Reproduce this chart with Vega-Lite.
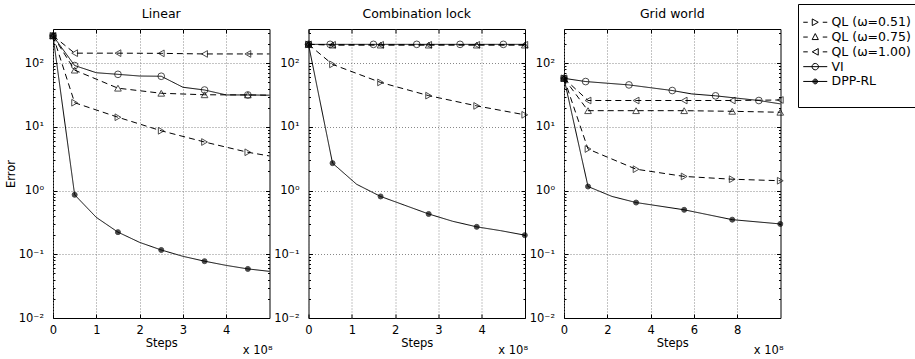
{
"$schema": "https://vega.github.io/schema/vega-lite/v6.json",
"datasets": {"main": [
{"p":"Linear","s":"QL (ω=0.51)","x":0,"y":270,"m":1},{"p":"Linear","s":"QL (ω=0.51)","x":0.5,"y":24,"m":1},{"p":"Linear","s":"QL (ω=0.51)","x":1.5,"y":14.2,"m":1},{"p":"Linear","s":"QL (ω=0.51)","x":2.5,"y":8.7,"m":1},{"p":"Linear","s":"QL (ω=0.51)","x":3.5,"y":5.8,"m":1},{"p":"Linear","s":"QL (ω=0.51)","x":4.5,"y":4.0,"m":1},{"p":"Linear","s":"QL (ω=0.51)","x":5,"y":3.5,"m":0},
{"p":"Linear","s":"QL (ω=0.75)","x":0,"y":270,"m":1},{"p":"Linear","s":"QL (ω=0.75)","x":0.5,"y":78,"m":1},{"p":"Linear","s":"QL (ω=0.75)","x":1.5,"y":40.6,"m":1},{"p":"Linear","s":"QL (ω=0.75)","x":2.5,"y":33.8,"m":1},{"p":"Linear","s":"QL (ω=0.75)","x":3.5,"y":32,"m":1},{"p":"Linear","s":"QL (ω=0.75)","x":4.5,"y":31.8,"m":1},{"p":"Linear","s":"QL (ω=0.75)","x":5,"y":31.5,"m":0},
{"p":"Linear","s":"QL (ω=1.00)","x":0,"y":270,"m":1},{"p":"Linear","s":"QL (ω=1.00)","x":0.5,"y":144,"m":1},{"p":"Linear","s":"QL (ω=1.00)","x":1.5,"y":144,"m":1},{"p":"Linear","s":"QL (ω=1.00)","x":2.5,"y":143,"m":1},{"p":"Linear","s":"QL (ω=1.00)","x":3.5,"y":140,"m":1},{"p":"Linear","s":"QL (ω=1.00)","x":4.5,"y":140,"m":1},{"p":"Linear","s":"QL (ω=1.00)","x":5,"y":140,"m":0},
{"p":"Linear","s":"VI","x":0,"y":270,"m":1},{"p":"Linear","s":"VI","x":0.5,"y":92,"m":1},{"p":"Linear","s":"VI","x":1,"y":71,"m":0},{"p":"Linear","s":"VI","x":1.5,"y":67,"m":1},{"p":"Linear","s":"VI","x":2,"y":63,"m":0},{"p":"Linear","s":"VI","x":2.5,"y":62.5,"m":1},{"p":"Linear","s":"VI","x":3,"y":42,"m":0},{"p":"Linear","s":"VI","x":3.5,"y":38,"m":1},{"p":"Linear","s":"VI","x":4,"y":31.8,"m":0},{"p":"Linear","s":"VI","x":4.5,"y":31.8,"m":1},{"p":"Linear","s":"VI","x":5,"y":31.5,"m":0},
{"p":"Linear","s":"DPP-RL","x":0,"y":270,"m":1},{"p":"Linear","s":"DPP-RL","x":0.5,"y":0.86,"m":1},{"p":"Linear","s":"DPP-RL","x":1,"y":0.38,"m":0},{"p":"Linear","s":"DPP-RL","x":1.5,"y":0.223,"m":1},{"p":"Linear","s":"DPP-RL","x":2,"y":0.154,"m":0},{"p":"Linear","s":"DPP-RL","x":2.5,"y":0.117,"m":1},{"p":"Linear","s":"DPP-RL","x":3,"y":0.093,"m":0},{"p":"Linear","s":"DPP-RL","x":3.5,"y":0.078,"m":1},{"p":"Linear","s":"DPP-RL","x":4,"y":0.067,"m":0},{"p":"Linear","s":"DPP-RL","x":4.5,"y":0.059,"m":1},{"p":"Linear","s":"DPP-RL","x":5,"y":0.054,"m":0},
{"p":"Combination lock","s":"QL (ω=0.51)","x":0,"y":198,"m":1},{"p":"Combination lock","s":"QL (ω=0.51)","x":0.555,"y":96,"m":1},{"p":"Combination lock","s":"QL (ω=0.51)","x":1.665,"y":50,"m":1},{"p":"Combination lock","s":"QL (ω=0.51)","x":2.775,"y":31,"m":1},{"p":"Combination lock","s":"QL (ω=0.51)","x":3.885,"y":21.4,"m":1},{"p":"Combination lock","s":"QL (ω=0.51)","x":4.995,"y":15.5,"m":1},
{"p":"Combination lock","s":"QL (ω=0.75)","x":0,"y":198,"m":1},{"p":"Combination lock","s":"QL (ω=0.75)","x":0.555,"y":193,"m":1},{"p":"Combination lock","s":"QL (ω=0.75)","x":1.665,"y":193,"m":1},{"p":"Combination lock","s":"QL (ω=0.75)","x":2.775,"y":193,"m":1},{"p":"Combination lock","s":"QL (ω=0.75)","x":3.885,"y":193,"m":1},{"p":"Combination lock","s":"QL (ω=0.75)","x":4.995,"y":193,"m":1},
{"p":"Combination lock","s":"QL (ω=1.00)","x":0,"y":198,"m":1},{"p":"Combination lock","s":"QL (ω=1.00)","x":0.555,"y":195,"m":1},{"p":"Combination lock","s":"QL (ω=1.00)","x":1.665,"y":195,"m":1},{"p":"Combination lock","s":"QL (ω=1.00)","x":2.775,"y":195,"m":1},{"p":"Combination lock","s":"QL (ω=1.00)","x":3.885,"y":195,"m":1},{"p":"Combination lock","s":"QL (ω=1.00)","x":4.995,"y":195,"m":1},
{"p":"Combination lock","s":"VI","x":0,"y":198,"m":1},{"p":"Combination lock","s":"VI","x":0.5,"y":198,"m":1},{"p":"Combination lock","s":"VI","x":1.5,"y":198,"m":1},{"p":"Combination lock","s":"VI","x":2.5,"y":198,"m":1},{"p":"Combination lock","s":"VI","x":3.5,"y":198,"m":1},{"p":"Combination lock","s":"VI","x":4.5,"y":198,"m":1},{"p":"Combination lock","s":"VI","x":5,"y":198,"m":0},
{"p":"Combination lock","s":"DPP-RL","x":0,"y":198,"m":1},{"p":"Combination lock","s":"DPP-RL","x":0.555,"y":2.7,"m":1},{"p":"Combination lock","s":"DPP-RL","x":1.11,"y":1.26,"m":0},{"p":"Combination lock","s":"DPP-RL","x":1.665,"y":0.81,"m":1},{"p":"Combination lock","s":"DPP-RL","x":2.22,"y":0.59,"m":0},{"p":"Combination lock","s":"DPP-RL","x":2.775,"y":0.43,"m":1},{"p":"Combination lock","s":"DPP-RL","x":3.33,"y":0.33,"m":0},{"p":"Combination lock","s":"DPP-RL","x":3.885,"y":0.27,"m":1},{"p":"Combination lock","s":"DPP-RL","x":4.44,"y":0.235,"m":0},{"p":"Combination lock","s":"DPP-RL","x":4.995,"y":0.2,"m":1},
{"p":"Grid world","s":"QL (ω=0.51)","x":0,"y":58,"m":1},{"p":"Grid world","s":"QL (ω=0.51)","x":1.11,"y":4.5,"m":1},{"p":"Grid world","s":"QL (ω=0.51)","x":3.33,"y":2.17,"m":1},{"p":"Grid world","s":"QL (ω=0.51)","x":5.55,"y":1.67,"m":1},{"p":"Grid world","s":"QL (ω=0.51)","x":7.77,"y":1.51,"m":1},{"p":"Grid world","s":"QL (ω=0.51)","x":9.99,"y":1.43,"m":1},
{"p":"Grid world","s":"QL (ω=0.75)","x":0,"y":58,"m":1},{"p":"Grid world","s":"QL (ω=0.75)","x":1.11,"y":18,"m":1},{"p":"Grid world","s":"QL (ω=0.75)","x":3.33,"y":18,"m":1},{"p":"Grid world","s":"QL (ω=0.75)","x":5.55,"y":18,"m":1},{"p":"Grid world","s":"QL (ω=0.75)","x":7.77,"y":17.6,"m":1},{"p":"Grid world","s":"QL (ω=0.75)","x":9.99,"y":17,"m":1},
{"p":"Grid world","s":"QL (ω=1.00)","x":0,"y":58,"m":1},{"p":"Grid world","s":"QL (ω=1.00)","x":1.11,"y":26,"m":1},{"p":"Grid world","s":"QL (ω=1.00)","x":3.33,"y":26,"m":1},{"p":"Grid world","s":"QL (ω=1.00)","x":5.55,"y":26,"m":1},{"p":"Grid world","s":"QL (ω=1.00)","x":7.77,"y":26,"m":1},{"p":"Grid world","s":"QL (ω=1.00)","x":9.99,"y":26.5,"m":1},
{"p":"Grid world","s":"VI","x":0,"y":58,"m":1},{"p":"Grid world","s":"VI","x":1,"y":51.6,"m":1},{"p":"Grid world","s":"VI","x":3,"y":45.7,"m":1},{"p":"Grid world","s":"VI","x":5,"y":37.3,"m":1},{"p":"Grid world","s":"VI","x":5.9,"y":33,"m":0},{"p":"Grid world","s":"VI","x":7,"y":30.8,"m":1},{"p":"Grid world","s":"VI","x":9,"y":26,"m":1},{"p":"Grid world","s":"VI","x":10,"y":23,"m":0},
{"p":"Grid world","s":"DPP-RL","x":0,"y":58,"m":1},{"p":"Grid world","s":"DPP-RL","x":1.11,"y":1.16,"m":1},{"p":"Grid world","s":"DPP-RL","x":2.22,"y":0.81,"m":0},{"p":"Grid world","s":"DPP-RL","x":3.33,"y":0.65,"m":1},{"p":"Grid world","s":"DPP-RL","x":5.55,"y":0.5,"m":1},{"p":"Grid world","s":"DPP-RL","x":7.77,"y":0.35,"m":1},{"p":"Grid world","s":"DPP-RL","x":9.99,"y":0.3,"m":1}
]},
"spacing": 38.5,
"bounds": "flush",
"padding": {"left": 4, "top": 3, "right": 0, "bottom": 0},
"hconcat": [
{
"title": "Linear", "width": 216.5, "height": 289,
"layer": [
{"data": {"name": "main"}, "transform": [{"filter": "datum.p==='Linear'"}],
 "mark": {"type": "line", "color": "black", "strokeWidth": 1},
 "encoding": {
  "x": {"field": "x", "type": "quantitative", "scale": {"domain": [0, 5], "nice": false, "zero": false},
    "axis": {"orient": "bottom", "values": [0,1,2,3,4], "title": "Steps", "grid": true, "gridColor": "#888", "gridDash": [1,2], "domain": false, "tickSize": -4, "labelPadding": 10.5, "titlePadding": 1.5, "labelFlush": false}},
  "y": {"field": "y", "type": "quantitative", "scale": {"type": "log", "domain": [0.01, 345], "nice": false},
    "axis": {"orient": "left", "values": [0.01,0.02,0.03,0.04,0.05,0.06,0.07,0.08,0.09,0.1,0.2,0.3,0.4,0.5,0.6,0.7,0.8,0.9,1,2,3,4,5,6,7,8,9,10,20,30,40,50,60,70,80,90,100,200,300], "grid": true, "gridColor": "#888", "gridDash": [1,2], "gridOpacity": {"condition": {"test": "indexof([0.1,1,10,100],datum.value)>=0", "value": 1}, "value": 0}, "tickSize": {"condition": {"test": "indexof([0.01,0.1,1,10,100],datum.value)>=0", "value": -4}, "value": -2}, "domain": false, "labelOverlap": false, "labelPadding": 13.5, "labelExpr": "datum.value===100?'10²':datum.value===10?'10¹':datum.value===1?'10⁰':datum.value===0.1?'10⁻¹':datum.value===0.01?'10⁻²':''", "title": "Error", "titlePadding": 2}},
  "detail": {"field": "s", "type": "nominal"},
  "strokeDash": {"condition": {"test": "datum.s==='VI' || datum.s==='DPP-RL'", "value": [1,0]}, "value": [6,4]}
 }},
{"data": {"name": "main"}, "transform": [{"filter": "datum.p==='Linear' && datum.m==1"}],
 "mark": {"type": "point", "filled": false, "stroke": "black", "strokeWidth": 1},
 "encoding": {
  "x": {"field": "x", "type": "quantitative", "axis": {"orient": "top", "values": [0,1,2,3,4], "labels": false, "grid": false, "domain": false, "tickSize": -4, "title": null}},
  "y": {"field": "y", "type": "quantitative", "axis": {"orient": "right", "values": [0.01,0.02,0.03,0.04,0.05,0.06,0.07,0.08,0.09,0.1,0.2,0.3,0.4,0.5,0.6,0.7,0.8,0.9,1,2,3,4,5,6,7,8,9,10,20,30,40,50,60,70,80,90,100,200,300], "labels": false, "grid": false, "domain": false, "tickSize": {"condition": {"test": "indexof([0.01,0.1,1,10,100],datum.value)>=0", "value": -4}, "value": -2}, "title": null}},
  "shape": {"condition": [{"test": "datum.s==='QL (ω=0.51)'", "value": "triangle-right"}, {"test": "datum.s==='QL (ω=0.75)'", "value": "triangle-up"}, {"test": "datum.s==='QL (ω=1.00)'", "value": "triangle-left"}], "value": "circle"},
  "fill": {"condition": {"test": "datum.s==='DPP-RL'", "value": "black"}, "value": "transparent"},
  "size": {"condition": {"test": "datum.s==='DPP-RL'", "value": 25}, "value": 45}
 }},
{"data": {"name": "main"}, "transform": [{"filter": "false"}],
 "mark": {"type": "point", "filled": false, "color": "black", "strokeWidth": 1},
 "encoding": {
  "x": {"field": "x", "type": "quantitative", "axis": null},
  "y": {"field": "y", "type": "quantitative", "axis": null},
  "shape": {"field": "s", "type": "nominal",
    "scale": {"domain": ["QL (ω=0.51)","QL (ω=0.75)","QL (ω=1.00)","VI","DPP-RL"," "],
      "range": ["M-1,0H-0.1M2.9,0H3.8M0.8,-0.66L2.0,0L0.8,0.66Z",
                "M-1,0H-0.1M2.9,0H3.8M0.78,0.5L2.02,0.5L1.4,-0.7Z",
                "M-1,0H-0.1M2.9,0H3.8M2.0,-0.66L0.8,0L2.0,0.66Z",
                "M-1,0H3.8M2.04,0A0.64,0.64 0 1 1 0.76,0A0.64,0.64 0 1 1 2.04,0",
                "M-1,0H3.8M1.88,0A0.48,0.48 0 1 1 0.92,0A0.48,0.48 0 1 1 1.88,0M1.72,0A0.32,0.32 0 1 1 1.08,0A0.32,0.32 0 1 1 1.72,0M1.56,0A0.16,0.16 0 1 1 1.24,0A0.16,0.16 0 1 1 1.56,0",
                "M0,0"]},
    "legend": {"orient": "none", "legendX": 745, "legendY": -25, "title": "\u00a0", "titleFontSize": 4, "titlePadding": 4, "padding": 4, "strokeColor": "black", "fillColor": "white", "symbolSize": 100, "symbolStrokeColor": "black", "symbolStrokeWidth": 1, "symbolFillColor": "transparent", "symbolOpacity": 1, "labelFont": "DejaVu Sans", "labelFontSize": 12.5, "labelColor": "black", "labelOffset": 17, "rowPadding": 1.8, "labelLimit": 300}}
 }},
{"data": {"values": [{"t": "x 10⁸"}]},
 "mark": {"type": "text", "align": "right", "baseline": "alphabetic", "dx": 3, "dy": 36, "font": "DejaVu Sans", "fontSize": 11.5, "color": "black"},
 "encoding": {"x": {"datum": 5, "type": "quantitative", "axis": null}, "y": {"datum": 0.01, "type": "quantitative", "axis": null}, "text": {"field": "t"}}}
],
"resolve": {"axis": {"x": "independent", "y": "independent"}}
},
{
"title": "Combination lock", "width": 216.5, "height": 289,
"layer": [
{"data": {"name": "main"}, "transform": [{"filter": "datum.p==='Combination lock'"}],
 "mark": {"type": "line", "color": "black", "strokeWidth": 1},
 "encoding": {
  "x": {"field": "x", "type": "quantitative", "scale": {"domain": [0, 5], "nice": false, "zero": false},
    "axis": {"orient": "bottom", "values": [0,1,2,3,4], "title": "Steps", "grid": true, "gridColor": "#888", "gridDash": [1,2], "domain": false, "tickSize": -4, "labelPadding": 10.5, "titlePadding": 1.5, "labelFlush": false}},
  "y": {"field": "y", "type": "quantitative", "scale": {"type": "log", "domain": [0.01, 345], "nice": false},
    "axis": {"orient": "left", "values": [0.01,0.02,0.03,0.04,0.05,0.06,0.07,0.08,0.09,0.1,0.2,0.3,0.4,0.5,0.6,0.7,0.8,0.9,1,2,3,4,5,6,7,8,9,10,20,30,40,50,60,70,80,90,100,200,300], "grid": true, "gridColor": "#888", "gridDash": [1,2], "gridOpacity": {"condition": {"test": "indexof([0.1,1,10,100],datum.value)>=0", "value": 1}, "value": 0}, "tickSize": {"condition": {"test": "indexof([0.01,0.1,1,10,100],datum.value)>=0", "value": -4}, "value": -2}, "domain": false, "labelOverlap": false, "labelPadding": 13.5, "labelExpr": "datum.value===100?'10²':datum.value===10?'10¹':datum.value===1?'10⁰':datum.value===0.1?'10⁻¹':datum.value===0.01?'10⁻²':''", "title": null}},
  "detail": {"field": "s", "type": "nominal"},
  "strokeDash": {"condition": {"test": "datum.s==='VI' || datum.s==='DPP-RL'", "value": [1,0]}, "value": [6,4]}
 }},
{"data": {"name": "main"}, "transform": [{"filter": "datum.p==='Combination lock' && datum.m==1"}],
 "mark": {"type": "point", "filled": false, "stroke": "black", "strokeWidth": 1},
 "encoding": {
  "x": {"field": "x", "type": "quantitative", "axis": {"orient": "top", "values": [0,1,2,3,4], "labels": false, "grid": false, "domain": false, "tickSize": -4, "title": null}},
  "y": {"field": "y", "type": "quantitative", "axis": {"orient": "right", "values": [0.01,0.02,0.03,0.04,0.05,0.06,0.07,0.08,0.09,0.1,0.2,0.3,0.4,0.5,0.6,0.7,0.8,0.9,1,2,3,4,5,6,7,8,9,10,20,30,40,50,60,70,80,90,100,200,300], "labels": false, "grid": false, "domain": false, "tickSize": {"condition": {"test": "indexof([0.01,0.1,1,10,100],datum.value)>=0", "value": -4}, "value": -2}, "title": null}},
  "shape": {"condition": [{"test": "datum.s==='QL (ω=0.51)'", "value": "triangle-right"}, {"test": "datum.s==='QL (ω=0.75)'", "value": "triangle-up"}, {"test": "datum.s==='QL (ω=1.00)'", "value": "triangle-left"}], "value": "circle"},
  "fill": {"condition": {"test": "datum.s==='DPP-RL'", "value": "black"}, "value": "transparent"},
  "size": {"condition": {"test": "datum.s==='DPP-RL'", "value": 25}, "value": 45}
 }},
{"data": {"values": [{"t": "x 10⁸"}]},
 "mark": {"type": "text", "align": "right", "baseline": "alphabetic", "dx": 3, "dy": 36, "font": "DejaVu Sans", "fontSize": 11.5, "color": "black"},
 "encoding": {"x": {"datum": 5, "type": "quantitative", "axis": null}, "y": {"datum": 0.01, "type": "quantitative", "axis": null}, "text": {"field": "t"}}}
],
"resolve": {"axis": {"x": "independent", "y": "independent"}}
},
{
"title": "Grid world", "width": 216.5, "height": 289,
"layer": [
{"data": {"name": "main"}, "transform": [{"filter": "datum.p==='Grid world'"}],
 "mark": {"type": "line", "color": "black", "strokeWidth": 1},
 "encoding": {
  "x": {"field": "x", "type": "quantitative", "scale": {"domain": [0, 10], "nice": false, "zero": false},
    "axis": {"orient": "bottom", "values": [0,2,4,6,8], "title": "Steps", "grid": true, "gridColor": "#888", "gridDash": [1,2], "domain": false, "tickSize": -4, "labelPadding": 10.5, "titlePadding": 1.5, "labelFlush": false}},
  "y": {"field": "y", "type": "quantitative", "scale": {"type": "log", "domain": [0.01, 345], "nice": false},
    "axis": {"orient": "left", "values": [0.01,0.02,0.03,0.04,0.05,0.06,0.07,0.08,0.09,0.1,0.2,0.3,0.4,0.5,0.6,0.7,0.8,0.9,1,2,3,4,5,6,7,8,9,10,20,30,40,50,60,70,80,90,100,200,300], "grid": true, "gridColor": "#888", "gridDash": [1,2], "gridOpacity": {"condition": {"test": "indexof([0.1,1,10,100],datum.value)>=0", "value": 1}, "value": 0}, "tickSize": {"condition": {"test": "indexof([0.01,0.1,1,10,100],datum.value)>=0", "value": -4}, "value": -2}, "domain": false, "labelOverlap": false, "labelPadding": 13.5, "labelExpr": "datum.value===100?'10²':datum.value===10?'10¹':datum.value===1?'10⁰':datum.value===0.1?'10⁻¹':datum.value===0.01?'10⁻²':''", "title": null}},
  "detail": {"field": "s", "type": "nominal"},
  "strokeDash": {"condition": {"test": "datum.s==='VI' || datum.s==='DPP-RL'", "value": [1,0]}, "value": [6,4]}
 }},
{"data": {"name": "main"}, "transform": [{"filter": "datum.p==='Grid world' && datum.m==1"}],
 "mark": {"type": "point", "filled": false, "stroke": "black", "strokeWidth": 1},
 "encoding": {
  "x": {"field": "x", "type": "quantitative", "axis": {"orient": "top", "values": [0,2,4,6,8], "labels": false, "grid": false, "domain": false, "tickSize": -4, "title": null}},
  "y": {"field": "y", "type": "quantitative", "axis": {"orient": "right", "values": [0.01,0.02,0.03,0.04,0.05,0.06,0.07,0.08,0.09,0.1,0.2,0.3,0.4,0.5,0.6,0.7,0.8,0.9,1,2,3,4,5,6,7,8,9,10,20,30,40,50,60,70,80,90,100,200,300], "labels": false, "grid": false, "domain": false, "tickSize": {"condition": {"test": "indexof([0.01,0.1,1,10,100],datum.value)>=0", "value": -4}, "value": -2}, "title": null}},
  "shape": {"condition": [{"test": "datum.s==='QL (ω=0.51)'", "value": "triangle-right"}, {"test": "datum.s==='QL (ω=0.75)'", "value": "triangle-up"}, {"test": "datum.s==='QL (ω=1.00)'", "value": "triangle-left"}], "value": "circle"},
  "fill": {"condition": {"test": "datum.s==='DPP-RL'", "value": "black"}, "value": "transparent"},
  "size": {"condition": {"test": "datum.s==='DPP-RL'", "value": 25}, "value": 45}
 }},
{"data": {"values": [{"t": "x 10⁸"}]},
 "mark": {"type": "text", "align": "right", "baseline": "alphabetic", "dx": 3, "dy": 36, "font": "DejaVu Sans", "fontSize": 11.5, "color": "black"},
 "encoding": {"x": {"datum": 10, "type": "quantitative", "axis": null}, "y": {"datum": 0.01, "type": "quantitative", "axis": null}, "text": {"field": "t"}}}
],
"resolve": {"axis": {"x": "independent", "y": "independent"}}
}
],
"config": {
 "view": {"stroke": "black", "strokeWidth": 1},
 "axis": {"labelFont": "DejaVu Sans", "labelFontSize": 11.5, "labelColor": "black", "titleFont": "DejaVu Sans", "titleFontSize": 11.5, "titleFontWeight": "normal", "titleColor": "black", "tickColor": "black"},
 "title": {"font": "DejaVu Sans", "fontSize": 12.5, "fontWeight": "normal", "color": "black", "offset": 6},
 "text": {"font": "DejaVu Sans"}
}
}
